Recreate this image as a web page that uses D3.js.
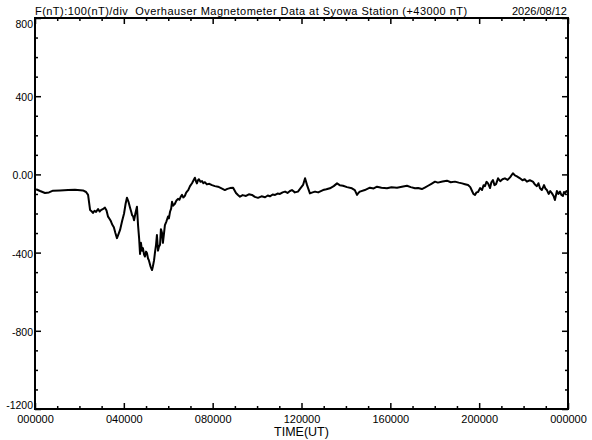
<!DOCTYPE html>
<html>
<head>
<meta charset="utf-8">
<script src="https://cdn.jsdelivr.net/npm/d3@7"></script>
<style>
  html, body { margin: 0; padding: 0; background: #fff; }
  svg { display: block; }
  text { font-family: "Liberation Sans", Arial, sans-serif; fill: #000; }
</style>
</head>
<body>
<svg id="chart" width="592" height="440"></svg>
<script>
// ---- Data (hours UT, nT relative to 43000 nT) ----
const hours = [0.05,0.23,0.45,0.63,0.81,1.13,1.49,1.80,2.16,2.30,2.39,2.48,2.56,2.61,2.68,2.75,2.84,2.91,2.97,3.05,3.15,3.22,3.29,3.36,3.42,3.47,3.55,3.62,3.69,3.76,3.83,3.92,4.01,4.08,4.14,4.21,4.28,4.33,4.37,4.42,4.46,4.52,4.59,4.64,4.69,4.73,4.77,4.82,4.86,4.91,4.95,5.00,5.04,5.09,5.13,5.20,5.27,5.31,5.36,5.40,5.45,5.49,5.54,5.58,5.63,5.67,5.72,5.76,5.81,5.85,5.92,5.99,6.03,6.08,6.13,6.17,6.22,6.30,6.36,6.44,6.50,6.56,6.62,6.68,6.75,6.80,6.84,6.90,6.98,7.07,7.14,7.20,7.25,7.29,7.34,7.38,7.45,7.52,7.58,7.65,7.74,7.85,7.97,8.10,8.24,8.40,8.55,8.66,8.78,8.92,9.05,9.14,9.23,9.35,9.50,9.63,9.77,9.90,10.04,10.20,10.36,10.48,10.58,10.70,10.81,10.92,11.03,11.15,11.26,11.37,11.48,11.57,11.70,11.84,11.95,12.07,12.16,12.25,12.38,12.50,12.61,12.75,12.97,13.12,13.28,13.45,13.60,13.72,13.87,14.05,14.27,14.40,14.50,14.56,14.63,14.85,15.08,15.25,15.40,15.60,15.85,16.05,16.30,16.52,16.75,16.92,17.11,17.25,17.42,17.55,17.70,17.85,18.01,18.14,18.35,18.55,18.72,18.91,19.08,19.23,19.36,19.50,19.60,19.68,19.74,19.81,19.88,19.95,20.04,20.13,20.20,20.26,20.33,20.40,20.49,20.55,20.62,20.69,20.76,20.85,20.95,21.05,21.16,21.28,21.39,21.52,21.61,21.70,21.84,21.95,22.05,22.15,22.28,22.42,22.50,22.60,22.67,22.74,22.82,22.92,22.98,23.05,23.13,23.20,23.28,23.35,23.41,23.46,23.50,23.57,23.64,23.70,23.77,23.82,23.86,23.93,24.0];
const values = [-76,-85,-95,-92,-83,-82,-80,-78,-82,-90,-105,-182,-190,-197,-186,-192,-177,-190,-183,-178,-170,-185,-216,-228,-240,-255,-270,-300,-326,-305,-284,-240,-200,-150,-119,-140,-170,-190,-208,-215,-235,-200,-165,-260,-330,-407,-350,-390,-377,-410,-420,-395,-402,-430,-440,-470,-489,-470,-440,-402,-360,-310,-390,-370,-360,-280,-300,-350,-300,-260,-240,-215,-225,-191,-175,-140,-160,-150,-135,-125,-130,-115,-105,-118,-110,-95,-88,-80,-60,-45,-30,-17,-35,-46,-30,-25,-38,-34,-45,-40,-51,-48,-55,-60,-63,-72,-80,-74,-70,-68,-95,-105,-114,-106,-110,-102,-105,-115,-120,-112,-117,-108,-112,-103,-105,-98,-100,-92,-88,-95,-85,-80,-92,-88,-72,-54,-20,-55,-97,-92,-88,-92,-80,-76,-71,-60,-46,-55,-58,-65,-71,-80,-105,-95,-88,-80,-68,-72,-63,-68,-71,-66,-68,-63,-58,-65,-71,-70,-75,-68,-58,-48,-37,-42,-36,-32,-40,-37,-42,-46,-50,-54,-65,-85,-100,-105,-92,-90,-70,-80,-55,-60,-38,-46,-70,-40,-29,-55,-50,-20,-35,-25,-20,-28,-15,6,-5,-10,-20,-30,-25,-37,-30,-37,-50,-60,-45,-71,-80,-55,-72,-80,-100,-85,-97,-110,-131,-105,-85,-100,-88,-105,-110,-90,-97,-85,-90];

const xMajorTicks = [0,4,8,12,16,20,24];
const xMinorTicks = d3.range(0,25).filter(h => h % 4 !== 0);
const yMajorTicks = [800,400,0,-400,-800,-1200];
const yMinorTicks = d3.range(-1200,801,100).filter(v => v % 400 !== 0);

const titleLeft = "F(nT):100(nT)/div  Overhauser Magnetometer Data at Syowa Station (+43000 nT)";
const titleRight = "2026/08/12";
const xTitle = "TIME(UT)";

// ---- Layout ----
const L = 35, R = 568, T = 18, B = 409;
const svg = d3.select("#chart");

const x = d3.scaleLinear().domain([0,24]).range([L,R]);
const y = d3.scaleLinear().domain([-1200,800]).range([B,T]);

const fmtX = h => String(h % 24).padStart(2,"0") + "0000";
const fmtY = v => v === 0 ? "0.00" : String(v);

function styleAxis(g) {
  g.select(".domain").remove();
  g.selectAll(".tick line").attr("stroke","#000").attr("stroke-width",1.5);
}

// bottom axis
svg.append("g").attr("transform",`translate(0,${B})`)
  .call(d3.axisBottom(x).tickValues(xMajorTicks).tickSize(-6).tickPadding(6).tickFormat(fmtX))
  .call(styleAxis)
  .call(g => g.selectAll("text").attr("font-size",11).attr("font-family",'"Liberation Sans", Arial, sans-serif'));
svg.append("g").attr("transform",`translate(0,${B})`)
  .call(d3.axisBottom(x).tickValues(xMinorTicks).tickSize(-3).tickFormat(""))
  .call(styleAxis);

// top axis
svg.append("g").attr("transform",`translate(0,${T})`)
  .call(d3.axisTop(x).tickValues(xMajorTicks).tickSize(-6).tickFormat(""))
  .call(styleAxis);
svg.append("g").attr("transform",`translate(0,${T})`)
  .call(d3.axisTop(x).tickValues(xMinorTicks).tickSize(-3).tickFormat(""))
  .call(styleAxis);

// left axis
svg.append("g").attr("transform",`translate(${L},0)`)
  .call(d3.axisLeft(y).tickValues(yMajorTicks).tickSize(-6).tickPadding(2).tickFormat(fmtY))
  .call(styleAxis)
  .call(g => g.selectAll("text")
    .attr("font-size",10.5)
    .attr("font-family",'"Liberation Sans", Arial, sans-serif')
    .attr("dy", d => d === 800 ? "0.95em" : (d === -1200 ? "-0.05em" : "0.42em")));
svg.append("g").attr("transform",`translate(${L},0)`)
  .call(d3.axisLeft(y).tickValues(yMinorTicks).tickSize(-3).tickFormat(""))
  .call(styleAxis);

// right axis
svg.append("g").attr("transform",`translate(${R},0)`)
  .call(d3.axisRight(y).tickValues(yMajorTicks).tickSize(-6).tickFormat(""))
  .call(styleAxis);
svg.append("g").attr("transform",`translate(${R},0)`)
  .call(d3.axisRight(y).tickValues(yMinorTicks).tickSize(-3).tickFormat(""))
  .call(styleAxis);

// frame
svg.append("rect").attr("x",L).attr("y",T).attr("width",R-L).attr("height",B-T)
  .attr("fill","none").attr("stroke","#000").attr("stroke-width",2);

// data line
const data = hours.map((h,i) => [h, values[i]]);
svg.append("path").datum(data)
  .attr("fill","none").attr("stroke","#000").attr("stroke-width",2)
  .attr("stroke-linejoin","round")
  .attr("d", d3.line().x(d => x(d[0])).y(d => y(d[1])));

// titles
svg.append("text").attr("x",L).attr("y",15).attr("font-size",11)
  .attr("letter-spacing","0.45px").style("white-space","pre").text(titleLeft);
svg.append("text").attr("x",R-1).attr("y",15).attr("font-size",11).attr("text-anchor","end").text(titleRight);
svg.append("text").attr("x",(L+R)/2).attr("y",436).attr("font-size",12.5).attr("text-anchor","middle").text(xTitle);
</script>
</body>
</html>
